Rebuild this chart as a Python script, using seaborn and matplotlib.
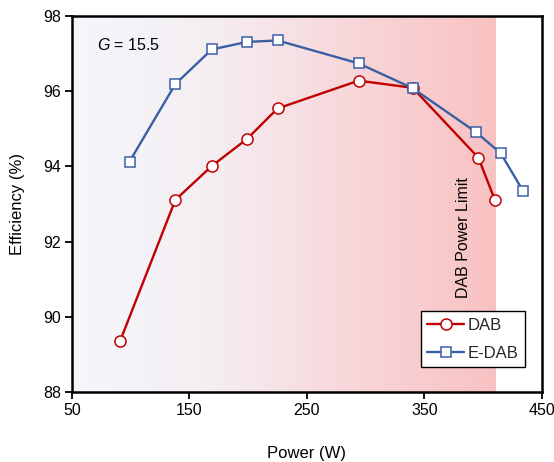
import numpy as np
import pandas as pd
import matplotlib
matplotlib.use("Agg")
import matplotlib.pyplot as plt
from matplotlib.colors import LinearSegmentedColormap
import seaborn as sns

# Measured efficiency vs. output power, G = 15.5
dab_power = [91, 138, 169, 199, 225, 294, 340, 396, 410]
dab_eff = [89.36, 93.11, 94.01, 94.73, 95.54, 96.28, 96.09, 94.23, 93.11]

edab_power = [99, 138, 169, 199, 225, 294, 340, 394, 415, 434]
edab_eff = [94.13, 96.19, 97.11, 97.31, 97.35, 96.74, 96.08, 94.91, 94.35, 93.35]

dab_limit = 411
x_ticks = [50, 150, 250, 350, 450]
y_ticks = [88, 90, 92, 94, 96, 98]

sns.set_theme(style="white")
plt.rcParams["font.family"] = ["Liberation Sans", "DejaVu Sans"]
plt.rcParams["mathtext.fontset"] = "custom"
plt.rcParams["mathtext.it"] = "Liberation Sans:italic"
plt.rcParams["mathtext.rm"] = "Liberation Sans"

fig = plt.figure(figsize=(5.54, 4.62), dpi=100)
ax = fig.add_axes([0.130, 0.1515, 0.848, 0.8139])

# shaded operating range of the DAB, fading from cool white to pink
cmap = LinearSegmentedColormap.from_list("band", ["#f4f7fc", "#f5eef2", "#f8d6d9", "#f9c2c2"])
grad = np.linspace(0, 1, 256).reshape(1, -1)
ax.imshow(grad, extent=[50, dab_limit, 88, 98], aspect="auto", cmap=cmap,
          origin="lower", zorder=0, interpolation="bicubic")

red = "#C00000"
blue = "#3A5FA3"

df_dab = pd.DataFrame({"Power": dab_power, "Eff": dab_eff})
df_edab = pd.DataFrame({"Power": edab_power, "Eff": edab_eff})

sns.lineplot(data=df_dab, x="Power", y="Eff", ax=ax, color=red, lw=1.7,
             marker="o", markersize=8, markerfacecolor="white",
             markeredgecolor=red, markeredgewidth=1.1, label="DAB", zorder=3)
sns.lineplot(data=df_edab, x="Power", y="Eff", ax=ax, color=blue, lw=1.7,
             marker="s", markersize=7, markerfacecolor="white",
             markeredgecolor=blue, markeredgewidth=1.1, label="E-DAB", zorder=3)

ax.set_xlim(50, 450)
ax.set_ylim(88, 98)
ax.set_xticks(x_ticks)
ax.set_yticks(y_ticks)
ax.tick_params(axis="both", direction="out", length=5, width=1.3, color="black",
               labelsize=11.5, labelcolor="black", bottom=True, left=True, pad=3)
for s in ax.spines.values():
    s.set_color("black")
    s.set_linewidth(1.8)

ax.set_xlabel("Power (W)", fontsize=12, color="black", labelpad=20)
ax.set_ylabel("Efficiency (%)", fontsize=12, color="black", labelpad=13)

ax.text(71, 97.23, r"$G$ = 15.5", fontsize=11.5, color="black", va="center", ha="left")
ax.text(383, 92.12, "DAB Power Limit", rotation=90, fontsize=11.5, color="black",
        va="center", ha="center")

leg = ax.legend(loc="lower right", bbox_to_anchor=(0.964, 0.066), borderaxespad=0,
                fontsize=12, frameon=True, fancybox=False, edgecolor="black",
                framealpha=1, handlelength=2.2, handletextpad=0.2, borderpad=0.4,
                labelspacing=0.75)
leg.get_frame().set_linewidth(1.0)

fig.savefig("out.png", dpi=100)
